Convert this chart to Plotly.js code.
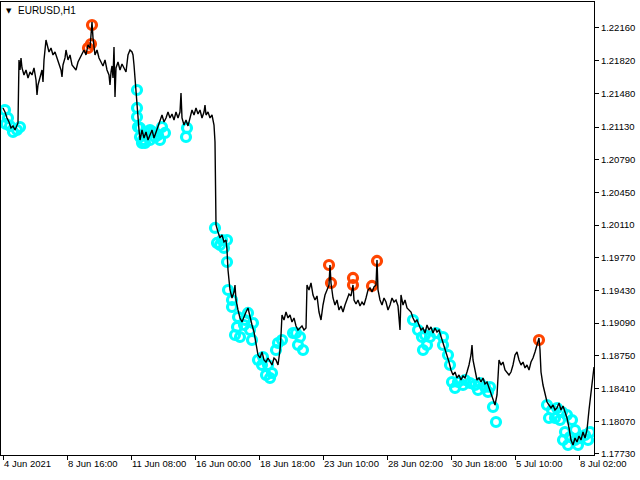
<!DOCTYPE html>
<html>
<head>
<meta charset="utf-8">
<script src="https://cdn.plot.ly/plotly-3.0.1.min.js"></script>
<style>html,body{margin:0;padding:0;background:#fff;}#chart{width:640px;height:480px;}</style>
</head>
<body>
<div id="chart"></div>
<script>
// Bar index (hours of trading since 4 Jun 2021 00:00) and close prices
const bars = [0,2,4,6,8,10,12,14,15,16,17,18,19,21,23,25,27,29,31,33,34,35,37,39,40,41,43,44,46,48,50,52,54,56,58,59,60,62,63,65,67,69,71,73,75,77,79,81,83,85,87,88,89,90,91,92,94,96,98,100,102,104,106,107,108,109,110,111,112,113,115,117,119,121,123,125,127,129,130,131,132,133,134,135,136,137,138,139,141,143,145,147,149,151,153,155,157,159,161,163,165,167,169,171,173,175,177,178,179,181,183,185,187,189,191,193,195,197,199,201,202,203,205,207,209,211,212,213,215,217,219,221,223,224,225,226,227,229,231,232,233,235,237,239,241,243,245,247,249,251,253,255,257,259,261,263,265,267,269,271,273,275,277,278,279,281,283,285,287,289,291,293,295,297,299,301,303,304,306,308,310,312,314,316,318,320,322,324,326,327,328,330,332,334,336,338,340,342,344,346,348,350,351,353,355,357,359,361,363,365,367,369,371,373,374,375,377,379,381,383,385,387,389,391,393,395,397,398,400,402,404,406,408,410,412,414,416,418,420,422,424,426,428,430,432,434,436,438,440,442,444,446,448,450,452,454,456,458,460,462,464,466,468,469,470,472,474,476,478,480,482,484,486,488,490,492,494,495,496,498,500,502,504,506,508,510,512,514,516,518,520,522,524,526,528,530,532,534,536,537,538,540,542,544,546,548,550,552,554,556,558,560,562,564,566,568,570,572,574,576,578,580,582,584,586,588,590,591];
const close = [1.21328,1.21286,1.21224,1.21182,1.21120,1.21141,1.21099,1.21151,1.21172,1.21827,1.21723,1.21848,1.21744,1.21671,1.21723,1.21640,1.21702,1.21671,1.21744,1.21619,1.21463,1.21567,1.21640,1.21723,1.21598,1.21827,1.22035,1.21983,1.21910,1.21952,1.21879,1.21910,1.21848,1.21806,1.21723,1.21650,1.21775,1.21848,1.21931,1.21827,1.21879,1.21775,1.21744,1.21723,1.21806,1.21848,1.21879,1.21931,1.21879,1.21983,1.21952,1.22087,1.22222,1.22056,1.21931,1.21879,1.21931,1.21848,1.21806,1.21765,1.21827,1.21723,1.21671,1.21567,1.21702,1.21765,1.21640,1.21962,1.21442,1.21744,1.21806,1.21723,1.21785,1.21744,1.21702,1.21879,1.21931,1.21910,1.21879,1.21775,1.21619,1.21494,1.21359,1.21224,1.21099,1.20995,1.21047,1.21099,1.21016,1.21078,1.20995,1.21047,1.21099,1.21016,1.21078,1.21141,1.21203,1.21255,1.21182,1.21224,1.21286,1.21224,1.21265,1.21203,1.21286,1.21224,1.21286,1.21484,1.21224,1.21151,1.21203,1.21141,1.21224,1.21307,1.21255,1.21328,1.21265,1.21307,1.21224,1.21286,1.21359,1.21255,1.21286,1.21224,1.21255,1.21151,1.20974,1.20111,1.20038,1.19976,1.20007,1.19934,1.19955,1.19851,1.19643,1.19487,1.19435,1.19352,1.19414,1.19487,1.19331,1.19227,1.19144,1.19102,1.19165,1.19206,1.19248,1.19144,1.19071,1.18998,1.18863,1.18759,1.18728,1.18790,1.18707,1.18686,1.18728,1.18686,1.18655,1.18728,1.18707,1.18655,1.18811,1.18967,1.19175,1.19123,1.19206,1.19144,1.19175,1.19102,1.19144,1.19061,1.19019,1.19040,1.19061,1.19019,1.19040,1.19487,1.19435,1.19508,1.19383,1.19331,1.19373,1.19206,1.19123,1.19279,1.19383,1.19435,1.19487,1.19695,1.19508,1.19352,1.19279,1.19331,1.19227,1.19269,1.19206,1.19279,1.19331,1.19393,1.19373,1.19487,1.19331,1.19289,1.19331,1.19269,1.19310,1.19279,1.19352,1.19435,1.19456,1.19414,1.19466,1.19487,1.19747,1.19435,1.19331,1.19279,1.19352,1.19310,1.19227,1.19279,1.19352,1.19310,1.19331,1.19269,1.19019,1.19383,1.19279,1.19331,1.19248,1.19227,1.19206,1.19144,1.19102,1.19123,1.19071,1.19019,1.19040,1.18988,1.19071,1.19019,1.19050,1.18988,1.19040,1.18998,1.19019,1.18957,1.18894,1.18811,1.18749,1.18686,1.18603,1.18551,1.18582,1.18520,1.18551,1.18499,1.18541,1.18520,1.18582,1.18655,1.18759,1.18863,1.18707,1.18582,1.18499,1.18520,1.18478,1.18520,1.18457,1.18478,1.18416,1.18374,1.18291,1.18239,1.18343,1.18551,1.18707,1.18655,1.18686,1.18603,1.18582,1.18551,1.18582,1.18655,1.18759,1.18790,1.18707,1.18655,1.18686,1.18624,1.18655,1.18603,1.18686,1.18728,1.18790,1.18863,1.18936,1.18811,1.18582,1.18447,1.18343,1.18270,1.18239,1.18208,1.18239,1.18187,1.18208,1.18260,1.18187,1.18229,1.18166,1.18104,1.18000,1.17875,1.17823,1.17896,1.17854,1.17917,1.17875,1.17958,1.17896,1.17979,1.18187,1.18343,1.18520,1.18634];

// Indicator signals
const cyanBars = [2,3,5,7,10,14,17,134,134,134,135,137,137,139,140,142,145,147,147,150,152,155,157,159,162,183,184,212,214,217,219,221,224,224,225,229,229,232,234,235,237,241,242,245,247,249,250,255,259,260,263,265,267,269,273,275,279,290,293,295,297,300,410,415,419,420,422,424,427,433,440,440,445,447,449,452,455,460,462,467,472,475,477,482,485,487,490,493,544,546,549,552,554,557,559,560,562,564,565,567,569,572,572,575,577,582,585,587];
const cyanPrices = [1.21307,1.21161,1.21224,1.21141,1.21078,1.21099,1.21130,1.21515,1.21328,1.21234,1.21130,1.21026,1.21120,1.20964,1.20995,1.20964,1.21068,1.21099,1.20995,1.21078,1.21026,1.21047,1.20995,1.21130,1.21068,1.21026,1.21120,1.20080,1.19924,1.19903,1.19955,1.19872,1.19955,1.19726,1.19435,1.19331,1.19258,1.18967,1.19050,1.19154,1.18946,1.19071,1.19123,1.19196,1.19019,1.18915,1.19092,1.18707,1.18655,1.18738,1.18551,1.18655,1.18520,1.18572,1.18811,1.18884,1.18915,1.18988,1.18988,1.18863,1.18946,1.18811,1.19123,1.19019,1.18946,1.18811,1.18967,1.18863,1.18946,1.18988,1.18946,1.18863,1.18759,1.18655,1.18478,1.18416,1.18478,1.18447,1.18499,1.18468,1.18447,1.18395,1.18468,1.18426,1.18374,1.18426,1.18218,1.18062,1.18239,1.18104,1.18187,1.18104,1.18208,1.18083,1.18166,1.17875,1.17958,1.18135,1.17823,1.17906,1.18083,1.17875,1.17979,1.17823,1.17896,1.17927,1.17875,1.17958];
const orangeBars = [85,88,89,326,328,350,350,369,374,536];
const orangePrices = [1.21952,1.21993,1.22191,1.19695,1.19508,1.19560,1.19487,1.19477,1.19737,1.18915];

// Axis labels
const xTickBars = [0,64,128,192,256,320,384,448,512,576];
const xTickLabels = ["4 Jun 2021","8 Jun 16:00","11 Jun 08:00","16 Jun 00:00","18 Jun 18:00","23 Jun 10:00","28 Jun 02:00","30 Jun 18:00","5 Jul 10:00","8 Jul 02:00"];
const yTickVals = [1.22160,1.21820,1.21480,1.21130,1.20790,1.20450,1.20110,1.19770,1.19430,1.19090,1.18750,1.18410,1.18070,1.17730];
const yTickLabels = yTickVals.map(v => v.toFixed(5));

const FONT = "Liberation Sans, Arial, sans-serif";

const traces = [
  {x: cyanBars, y: cyanPrices, type: 'scatter', mode: 'markers',
   marker: {symbol: 'circle-open', size: 9, color: '#00FFFF', line: {width: 3.2, color: '#00FFFF'}},
   hoverinfo: 'skip', showlegend: false},
  {x: orangeBars, y: orangePrices, type: 'scatter', mode: 'markers',
   marker: {symbol: 'circle-open', size: 9, color: '#FF4500', line: {width: 3.2, color: '#FF4500'}},
   hoverinfo: 'skip', showlegend: false},
  {x: bars, y: close, type: 'scatter', mode: 'lines',
   line: {color: '#000000', width: 1.4}, hoverinfo: 'skip', showlegend: false}
];

const layout = {
  width: 640, height: 480,
  margin: {l: 1, r: 46, t: 2, b: 25, pad: 0},
  paper_bgcolor: '#ffffff', plot_bgcolor: '#ffffff',
  font: {family: FONT, size: 9.5, color: '#000000'},
  showlegend: false,
  xaxis: {
    range: [-2, 591], showgrid: false, zeroline: false,
    showline: true, linecolor: '#000000', linewidth: 1, mirror: true,
    ticks: 'outside', ticklen: 4, tickcolor: '#000000', tickwidth: 1,
    tickmode: 'array', tickvals: xTickBars, ticktext: xTickLabels,
    ticklabelposition: 'outside right',
    tickfont: {family: FONT, size: 9.5, color: '#000000'}
  },
  yaxis: {
    range: [1.17719, 1.22430], side: 'right', showgrid: false, zeroline: false,
    showline: true, linecolor: '#000000', linewidth: 1, mirror: true,
    ticks: 'outside', ticklen: 4, tickcolor: '#000000', tickwidth: 1,
    tickmode: 'array', tickvals: yTickVals, ticktext: yTickLabels,
    tickfont: {family: FONT, size: 9.5, color: '#000000'}
  },
  annotations: [
    {xref: 'paper', yref: 'paper', x: 0, y: 1, xanchor: 'left', yanchor: 'top',
     xshift: 3, yshift: -3, text: '▼', showarrow: false,
     font: {family: 'DejaVu Sans', size: 7, color: '#000000'}},
    {xref: 'paper', yref: 'paper', x: 0, y: 1, xanchor: 'left', yanchor: 'top',
     xshift: 15, yshift: -1, text: 'EURUSD,H1', showarrow: false,
     font: {family: FONT, size: 10, color: '#000000'}}
  ]
};

Plotly.newPlot('chart', traces, layout, {staticPlot: true, displayModeBar: false});
</script>
</body>
</html>
